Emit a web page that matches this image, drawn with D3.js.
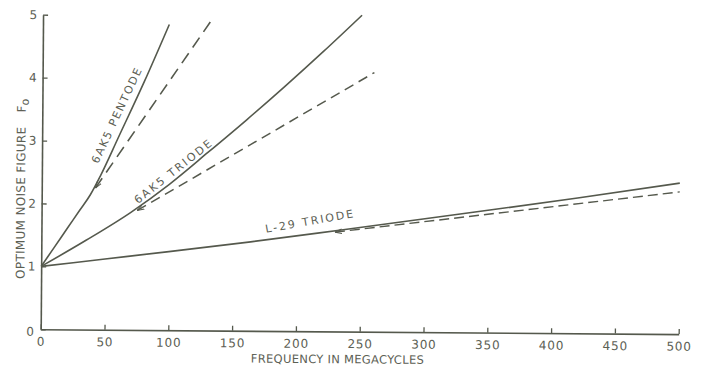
<!DOCTYPE html>
<html>
<head>
<meta charset="utf-8">
<script src="https://cdn.jsdelivr.net/npm/d3@7"></script>
<style>
  html, body { margin: 0; padding: 0; background: #fff; }
  svg { display: block; }
</style>
</head>
<body>
<svg id="chart" width="708" height="369"></svg>
<script>
// ---- data ----
const xTicks = [0, 50, 100, 150, 200, 250, 300, 350, 400, 450, 500];
const yTicks = [0, 1, 2, 3, 4, 5];

const pentodeX = [0, 10, 20, 30, 38, 46, 60, 80, 99];
const pentodeY = [1, 1.30, 1.60, 1.90, 2.14, 2.45, 3.07, 3.96, 4.86];
const pentodeDashX = [42, 133];
const pentodeDashY = [2.25, 4.96];

const triodeX = [0, 35, 70, 100, 130, 160, 190, 220, 250];
const triodeY = [1, 1.42, 1.87, 2.32, 2.83, 3.35, 3.89, 4.45, 5.03];
const triodeDashX = [75, 260];
const triodeDashY = [1.90, 4.12];

const l29X = [0, 50, 100, 164, 235, 331, 420, 500];
const l29Y = [1, 1.125, 1.25, 1.415, 1.615, 1.89, 2.15, 2.40];
const l29DashX = [230, 500];
const l29DashY = [1.58, 2.26];

const curveLabels = ["6AK5 PENTODE", "6AK5 TRIODE", "L-29 TRIODE"];
const xTitle = "FREQUENCY IN MEGACYCLES";
const yTitle = "OPTIMUM NOISE FIGURE";

// ---- drawing ----
const ink = "#55594d";
const textInk = "#5c6054";
const svg = d3.select("#chart");

const x = d3.scaleLinear().domain([0, 500]).range([40.7, 678.7]);
const y = d3.scaleLinear().domain([0, 5]).range([329.3, 14.7]);

// the scanned page is slightly rotated
const g = svg.append("g").attr("transform", "rotate(0.43,40.7,329.3)");

const xAxis = g.append("g")
  .attr("transform", `translate(0,${y(0)})`)
  .call(d3.axisBottom(x).tickValues(xTicks).tickFormat(d3.format("d"))
        .tickSizeInner(-5).tickSizeOuter(0).tickPadding(8));
const yAxis = g.append("g")
  .attr("transform", `translate(${x(0)},0)`)
  .call(d3.axisLeft(y).tickValues(yTicks).tickFormat(d3.format("d"))
        .tickSizeInner(-5).tickSizeOuter(0).tickPadding(5));

[xAxis, yAxis].forEach(a => {
  a.select(".domain").attr("stroke", ink).attr("stroke-width", 1.6);
  a.selectAll(".tick line").attr("stroke", ink).attr("stroke-width", 1.3);
  a.selectAll(".tick text")
    .attr("fill", textInk)
    .attr("font-family", "DejaVu Sans, sans-serif")
    .attr("font-size", 12)
    .attr("letter-spacing", 0.8);
});
yAxis.select(".tick:first-of-type text").attr("dy", "0.5em").attr("x", -6);

// arrow marker at dashed starts (tip points back to the solid curve)
const defs = svg.append("defs");
defs.append("marker")
  .attr("id", "arr")
  .attr("viewBox", "0 -4 10 8")
  .attr("refX", 0).attr("refY", 0)
  .attr("markerWidth", 7).attr("markerHeight", 6)
  .attr("markerUnits", "userSpaceOnUse")
  .attr("orient", "auto")
  .append("path")
  .attr("d", "M10,-3.2L0,0L10,3.2")
  .attr("fill", "none").attr("stroke", ink).attr("stroke-width", 1.5);

const line = d3.line().x(d => x(d[0])).y(d => y(d[1])).curve(d3.curveMonotoneX);
const zip = (a, b) => a.map((v, i) => [v, b[i]]);

function solid(xs, ys) {
  g.append("path").datum(zip(xs, ys))
    .attr("d", line).attr("fill", "none")
    .attr("stroke", ink).attr("stroke-width", 1.6);
}
function dashed(xs, ys, dash, w) {
  g.append("path").datum(zip(xs, ys))
    .attr("d", line).attr("fill", "none")
    .attr("stroke", ink).attr("stroke-width", w)
    .attr("stroke-dasharray", dash)
    .attr("marker-start", "url(#arr)");
}

solid(pentodeX, pentodeY);
dashed(pentodeDashX, pentodeDashY, "12,7", 1.6);
solid(triodeX, triodeY);
dashed(triodeDashX, triodeDashY, "10,6", 1.5);
solid(l29X, l29Y);
dashed(l29DashX, l29DashY, "10,5", 1.4);

// curve labels (anchored in data coordinates)
const labelPos = [
  { x: 44, y: 2.63, angle: -65.4, spacing: 1.7 },
  { x: 75.5, y: 2.0, angle: -38.8, spacing: 2.1 },
  { x: 176, y: 1.56, angle: -10.5, spacing: 2.0 }
];
curveLabels.forEach((t, i) => {
  const p = labelPos[i];
  g.append("text")
    .attr("transform", `translate(${x(p.x)},${y(p.y)}) rotate(${p.angle})`)
    .attr("fill", textInk)
    .attr("font-family", "DejaVu Sans, sans-serif")
    .attr("font-size", 11)
    .attr("letter-spacing", p.spacing)
    .text(t);
});

// axis titles
g.append("text")
  .attr("x", (x(0) + x(500)) / 2 - 22)
  .attr("y", 361)
  .attr("text-anchor", "middle")
  .attr("fill", textInk)
  .attr("font-family", "DejaVu Sans, sans-serif")
  .attr("font-size", 11.5)
  .attr("letter-spacing", 0.3)
  .text(xTitle);

const yt = g.append("text")
  .attr("transform", "translate(24,279) rotate(-90)")
  .attr("fill", textInk)
  .attr("font-family", "DejaVu Sans, sans-serif")
  .attr("font-size", 12)
  .attr("letter-spacing", 0.3);
yt.append("tspan").text(yTitle);
yt.append("tspan").attr("dx", 14).text("F");
yt.append("tspan").attr("dy", 3).attr("font-size", 11).text("o");
</script>
</body>
</html>
